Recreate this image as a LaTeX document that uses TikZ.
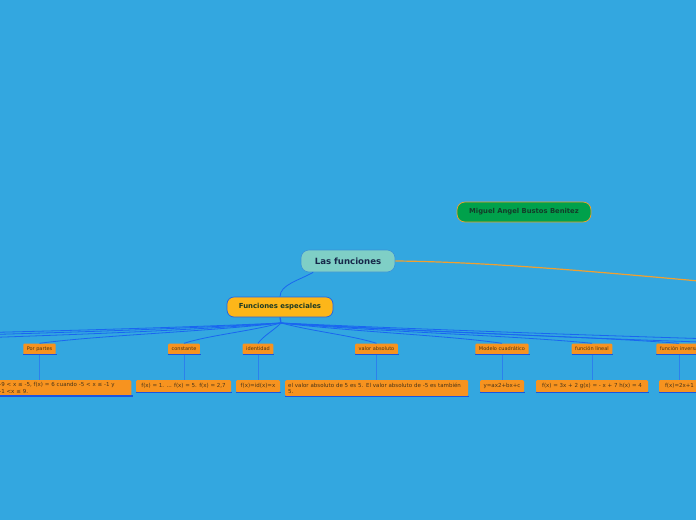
\documentclass[tikz,border=0pt]{standalone}
\usepackage{fontspec}
\setmainfont{DejaVu Sans}
\usetikzlibrary{calc}
\definecolor{bg}{HTML}{33A7E0}
\definecolor{rootfill}{HTML}{7FCFC6}
\definecolor{rootdraw}{HTML}{3B93D6}
\definecolor{roottext}{HTML}{17284A}
\definecolor{fefill}{HTML}{FDB619}
\definecolor{fedraw}{HTML}{2063E6}
\definecolor{fetext}{HTML}{1D3A24}
\definecolor{mgfill}{HTML}{00A14B}
\definecolor{mgdraw}{HTML}{F2A22A}
\definecolor{mgtext}{HTML}{133D29}
\definecolor{kidfill}{HTML}{F7931F}
\definecolor{kidtext}{HTML}{4A3418}
\definecolor{connblue}{HTML}{1A66F0}
\definecolor{vblue}{HTML}{2C80EC}
\definecolor{ulblue}{HTML}{1A55E0}
\definecolor{oline}{HTML}{F0A030}
\tikzset{
  rootbox/.style={fill=rootfill, draw=rootdraw, line width=0.6pt, rounded corners=8pt,
    minimum width=94pt, minimum height=22pt, inner sep=0pt, text=roottext,
    font=\fontsize{8.6}{9.6}\selectfont\bfseries},
  febox/.style={fill=fefill, draw=fedraw, line width=0.7pt, rounded corners=7pt,
    minimum width=106pt, minimum height=20pt, inner sep=0pt, text=fetext,
    font=\fontsize{6.9}{7.9}\selectfont\bfseries},
  mgbox/.style={fill=mgfill, draw=mgdraw, line width=0.7pt, rounded corners=8pt,
    minimum width=134pt, minimum height=20pt, inner sep=0pt, text=mgtext,
    font=\fontsize{6.8}{7.8}\selectfont\bfseries},
  kidbox/.style={fill=kidfill, rounded corners=1.2pt, minimum height=11pt,
    inner xsep=3.5pt, inner ysep=0pt, text=kidtext, font=\fontsize{5}{6}\selectfont},
  leafbox/.style={fill=kidfill, rounded corners=1.2pt, minimum height=12pt,
    inner xsep=3pt, inner ysep=2.4pt, text=kidtext, font=\fontsize{5.5}{6.6}\selectfont},
  conn/.style={draw=connblue, line width=0.8pt},
  vconn/.style={draw=vblue, line width=0.8pt},
  uline/.style={draw=ulblue, line width=1.3pt},
  orconn/.style={draw=oline, line width=1.2pt},
}
\begin{document}
\begin{tikzpicture}[x=1pt,y=-1pt]
\fill[bg] (0,0) rectangle (696,520);
\clip (0,0) rectangle (696,520);

% main nodes
\node[rootbox] (root) at (348,261) {Las funciones};
\node[febox] (fe) at (280,307) {Funciones especiales};
\node[mgbox] (mg) at (524,212) {Miguel Angel Bustos Benitez};

% off-canvas ends
\coordinate (offR) at (800,290);
\coordinate (hub) at (281,323);
\coordinate (L1) at (-80,340);
\coordinate (L2) at (-220,340);
\coordinate (L3) at (-380,340);
\coordinate (R1) at (800,345);
\coordinate (R2) at (950,345);

% second-level nodes
\node[kidbox] (pp) at (39.5,349) {Por partes};
\node[kidbox] (co) at (184,349) {constante};
\node[kidbox] (id) at (258,349) {identidad};
\node[kidbox] (va) at (376.5,349) {valor absoluto};
\node[kidbox] (mc) at (502,349) {Modelo cuadrático};
\node[kidbox] (fl) at (592,349) {función lineal};
\node[kidbox] (fi) at (679,349) {función inversa};

% leaves
\node[leafbox, anchor=north east, text width=129pt, align=left] (l1) at (131.5,380)
  {-9 < x ≤ -5, f(x) = 6 cuando -5 < x ≤ -1 y\\-1 <x ≤ 9.};
\node[leafbox, anchor=north, minimum width=95pt] (l2) at (183.5,380) {f(x) = 1. ... f(x) = 5. f(x) = 2,7};
\node[leafbox, anchor=north, minimum width=44pt] (l3) at (258,380) {f(x)=id(x)=x};
\node[leafbox, anchor=north west, text width=177pt, align=left] (l4) at (285,380)
  {el valor absoluto de 5 es 5. El valor absoluto de -5 es también\\5.};
\node[leafbox, anchor=north, minimum width=44pt] (l5) at (502,380) {y=ax2+bx+c};
\node[leafbox, anchor=north, minimum width=112pt] (l6) at (592,380) {f(x) = 3x + 2 g(x) = - x + 7 h(x) = 4};
\node[leafbox, anchor=north, minimum width=41pt] (l7) at (679.5,380) {f(x)=2x+1};

% underlines
\foreach \n in {pp,co,id,va,mc,fl,fi,l1,l2,l3,l4,l5,l6,l7}
  \draw[uline] (\n.south west) -- ($(\n.south east)+(1,0)$);

% connectors
\draw[orconn] (root.east) .. controls +(120,1) and +(-120,-10) .. (offR);
\draw[conn] (root.-162) .. controls +(-14,8) and +(0,-12) .. (fe.north);
\draw[conn, line width=1.3pt] (fe.south) -- (hub);

\draw[conn] (hub) .. controls +(-80,9) and +(60,-8) .. (pp.north);
\draw[conn] (hub) .. controls +(-35,9) and +(25,-8) .. (co.north);
\draw[conn] (hub) .. controls +(-8,8) and +(6,-8) .. (id.north);
\draw[conn] (hub) .. controls +(35,9) and +(-25,-8) .. (va.north);
\draw[conn] (hub) .. controls +(75,9) and +(-55,-8) .. (mc.north);
\draw[conn] (hub) .. controls +(100,9) and +(-80,-8) .. (fl.north);
\draw[conn] (hub) .. controls +(125,9) and +(-105,-8) .. (fi.north);
\draw[conn] (hub) .. controls +(-108,9) and +(108,-4) .. (L1);
\draw[conn] (hub) .. controls +(-150,9) and +(150,-4) .. (L2);
\draw[conn] (hub) .. controls +(-200,9) and +(200,-4) .. (L3);
\draw[conn] (hub) .. controls +(155,9) and +(-155,-4) .. (R1);
\draw[conn] (hub) .. controls +(200,9) and +(-200,-4) .. (R2);

% vertical links
\foreach \a/\b in {pp/l1,co/l2,id/l3,va/l4,mc/l5,fl/l6,fi/l7}
  \draw[vconn] (\a.south) -- (\a.south |- \b.north);
\end{tikzpicture}
\end{document}
